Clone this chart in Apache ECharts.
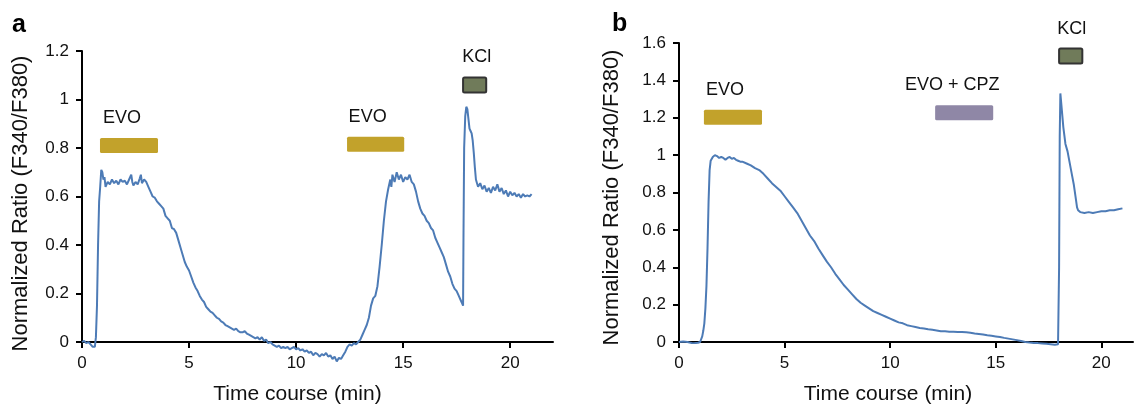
<!DOCTYPE html>
<html>
<head>
    <meta charset="UTF-8">
    <title>EVO calcium imaging</title>
    <script src="https://cdn.jsdelivr.net/npm/echarts@6.0.0/dist/echarts.min.js"></script>
    <style>
        html, body { margin: 0; padding: 0; background: #fff; }
        #chart { width: 1135px; height: 410px; }
    </style>
</head>
<body>
    <div id="chart"></div>
    <script>
        // panel a - trace (min, ratio)
        var timeA = [0, 0.1, 0.2, 0.3, 0.4, 0.5, 0.55, 0.6, 0.65, 0.7, 0.75, 0.8, 0.85, 0.9, 0.95, 1.0, 1.05, 1.1, 1.2, 1.3,
            1.4, 1.5, 1.6, 1.7, 1.8, 1.9, 2.0, 2.1, 2.2, 2.3, 2.35, 2.4, 2.5, 2.6, 2.7, 2.75, 2.8, 2.9, 3.0, 3.1,
            3.2, 3.3, 3.4, 3.5, 3.6, 3.7, 3.8, 3.9, 4.0, 4.1, 4.2, 4.3, 4.4, 4.5, 4.6, 4.7, 4.8, 4.9, 5.0, 5.1,
            5.2, 5.3, 5.4, 5.5, 5.6, 5.7, 5.8, 5.9, 6.0, 6.1, 6.2, 6.3, 6.4, 6.5, 6.6, 6.7, 6.8, 6.9, 7.0, 7.1,
            7.2, 7.3, 7.4, 7.5, 7.6, 7.7, 7.8, 7.9, 8.0, 8.1, 8.2, 8.3, 8.4, 8.5, 8.6, 8.7, 8.8, 8.9, 9.0, 9.1,
            9.2, 9.3, 9.4, 9.5, 9.6, 9.7, 9.8, 9.9, 10.0, 10.1, 10.2, 10.3, 10.4, 10.5, 10.6, 10.7, 10.8, 10.9, 11.0, 11.1,
            11.2, 11.3, 11.4, 11.5, 11.6, 11.7, 11.8, 11.9, 12.0, 12.1, 12.2, 12.3, 12.4, 12.5, 12.6, 12.7, 12.8, 12.9, 13.0, 13.1,
            13.2, 13.3, 13.4, 13.5, 13.6, 13.7, 13.8, 13.9, 14.0, 14.1, 14.2, 14.3, 14.4, 14.45, 14.5, 14.6, 14.7, 14.8, 14.9, 15.0,
            15.1, 15.2, 15.3, 15.4, 15.5, 15.6, 15.7, 15.8, 15.9, 16.0, 16.1, 16.2, 16.3, 16.4, 16.5, 16.6, 16.7, 16.8, 16.9, 17.0,
            17.1, 17.2, 17.3, 17.4, 17.5, 17.6, 17.7, 17.75, 17.8, 17.82, 17.85, 17.9, 17.95, 18.0, 18.05, 18.1, 18.15, 18.2, 18.25, 18.3,
            18.35, 18.4, 18.45, 18.5, 18.6, 18.7, 18.8, 18.9, 19.0, 19.1, 19.2, 19.3, 19.4, 19.5, 19.6, 19.7, 19.8, 19.9, 20.0, 20.1,
            20.2, 20.3, 20.4, 20.5, 20.6, 20.7, 20.8, 20.9, 21.0];
        var ratioA = [0, 0.005, -0.005, 0, -0.01, -0.02, -0.015, -0.02, 0.02, 0.15, 0.4, 0.58, 0.64, 0.71, 0.7, 0.67, 0.68, 0.64, 0.66, 0.65,
            0.67, 0.655, 0.665, 0.65, 0.67, 0.66, 0.665, 0.65, 0.67, 0.69, 0.66, 0.645, 0.66, 0.65, 0.675, 0.69, 0.655, 0.67, 0.66, 0.64,
            0.62, 0.6, 0.595, 0.58, 0.57, 0.56, 0.55, 0.52, 0.51, 0.5, 0.47, 0.465, 0.45, 0.42, 0.39, 0.36, 0.33, 0.31, 0.295, 0.27,
            0.245, 0.225, 0.21, 0.19, 0.175, 0.165, 0.145, 0.135, 0.125, 0.12, 0.11, 0.1, 0.095, 0.085, 0.08, 0.07, 0.065, 0.06, 0.055, 0.05,
            0.055, 0.045, 0.04, 0.04, 0.045, 0.035, 0.03, 0.025, 0.02, 0.015, 0.02, 0.01, 0.02, 0.005, 0.01, -0.005, 0, -0.01, -0.015, -0.02,
            -0.015, -0.025, -0.02, -0.025, -0.02, -0.03, -0.025, -0.02, -0.03, -0.025, -0.035, -0.03, -0.04, -0.035, -0.045, -0.04, -0.055, -0.045, -0.05, -0.06,
            -0.05, -0.055, -0.045, -0.06, -0.055, -0.07, -0.06, -0.08, -0.065, -0.07, -0.055, -0.04, -0.02, -0.01, -0.015, -0.005, -0.01, 0, 0.01, 0.03,
            0.05, 0.07, 0.1, 0.15, 0.18, 0.19, 0.23, 0.31, 0.4, 0.5, 0.58, 0.63, 0.67, 0.64, 0.69, 0.66, 0.7, 0.67, 0.69, 0.66,
            0.68, 0.67, 0.69, 0.66, 0.65, 0.62, 0.58, 0.55, 0.53, 0.52, 0.5, 0.49, 0.47, 0.46, 0.43, 0.41, 0.39, 0.37, 0.35, 0.32,
            0.29, 0.27, 0.24, 0.22, 0.21, 0.19, 0.17, 0.16, 0.15, 0.45, 0.8, 0.93, 0.97, 0.96, 0.92, 0.88, 0.87, 0.86, 0.83, 0.78,
            0.72, 0.67, 0.655, 0.64, 0.655, 0.63, 0.645, 0.62, 0.635, 0.615, 0.64, 0.625, 0.65, 0.62, 0.635, 0.61, 0.625, 0.6, 0.62, 0.605,
            0.615, 0.6, 0.61, 0.595, 0.61, 0.6, 0.605, 0.6, 0.61];

        // panel b
        var timeB = [0, 0.2, 0.4, 0.5, 0.6, 0.7, 0.8, 0.9, 1.0, 1.05, 1.1, 1.15, 1.2, 1.25, 1.3, 1.35, 1.4, 1.45, 1.5, 1.6,
            1.7, 1.8, 1.9, 2.0, 2.1, 2.2, 2.3, 2.4, 2.5, 2.6, 2.7, 2.8, 2.9, 3.0, 3.2, 3.4, 3.6, 3.8, 4.0, 4.2,
            4.4, 4.6, 4.8, 5.0, 5.2, 5.4, 5.6, 5.8, 6.0, 6.2, 6.4, 6.6, 6.8, 7.0, 7.2, 7.4, 7.6, 7.8, 8.0, 8.2,
            8.4, 8.6, 8.8, 9.0, 9.2, 9.4, 9.6, 9.8, 10.0, 10.2, 10.4, 10.6, 10.8, 11.0, 11.2, 11.4, 11.6, 11.8, 12.0, 12.2,
            12.4, 12.6, 12.8, 13.0, 13.2, 13.4, 13.6, 13.8, 14.0, 14.2, 14.4, 14.6, 14.8, 15.0, 15.2, 15.4, 15.6, 15.8, 16.0, 16.2,
            16.4, 16.6, 16.8, 17.0, 17.2, 17.4, 17.6, 17.8, 17.95, 18.0, 18.03, 18.06, 18.1, 18.2, 18.3, 18.4, 18.5, 18.6, 18.7, 18.8,
            18.85, 18.9, 19.0, 19.2, 19.4, 19.6, 19.8, 20.0, 20.2, 20.4, 20.6, 20.8, 21.0];
        var ratioB = [0, 0.003, 0, -0.003, -0.005, -0.006, -0.005, -0.004, 0, 0.01, 0.03, 0.06, 0.1, 0.18, 0.3, 0.5, 0.75, 0.92, 0.97, 0.99,
            1.0, 0.995, 0.985, 0.99, 0.985, 0.975, 0.985, 0.99, 0.98, 0.985, 0.975, 0.97, 0.965, 0.965, 0.955, 0.945, 0.93, 0.92, 0.9, 0.875,
            0.85, 0.83, 0.81, 0.78, 0.75, 0.72, 0.69, 0.65, 0.61, 0.57, 0.54, 0.5, 0.465, 0.43, 0.4, 0.365, 0.335, 0.305, 0.28, 0.255,
            0.23, 0.21, 0.195, 0.18, 0.165, 0.155, 0.145, 0.135, 0.125, 0.115, 0.105, 0.1, 0.09, 0.085, 0.08, 0.075, 0.072, 0.068, 0.065, 0.062,
            0.058, 0.057, 0.055, 0.055, 0.054, 0.053, 0.052, 0.05, 0.046, 0.043, 0.04, 0.036, 0.033, 0.03, 0.027, 0.022, 0.018, 0.014, 0.01, 0.005,
            0, -0.003, -0.005, -0.006, -0.008, -0.01, -0.012, -0.015, -0.012, 0.4, 1.1, 1.33, 1.28, 1.15, 1.06, 1.02, 0.96, 0.9, 0.84, 0.76,
            0.72, 0.705, 0.695, 0.69, 0.695, 0.69, 0.695, 0.7, 0.7, 0.705, 0.705, 0.71, 0.715];

        // treatment bars: [start min, end min, level]
        var treatA = [[0.84, 3.55, 0.81], [12.38, 15.05, 0.815], [17.8, 18.88, 1.06]];
        var treatLabelsA = ['EVO', 'EVO', 'KCl'];
        var treatB = [[1.18, 3.93, 1.203], [12.13, 14.88, 1.227], [18.0, 19.1, 1.53]];
        var treatLabelsB = ['EVO', 'EVO + CPZ', 'KCl'];

        var xTicks = [0, 5, 10, 15, 20];
        var panelLetters = ['a', 'b'];

        var font = '"Liberation Sans", Arial, Helvetica, sans-serif';
        var lineColor = '#4d7bb6';
        var barColors = { 'EVO': '#c2a22b', 'EVO + CPZ': '#8f87a6', 'KCl': '#707b5a' };
        // horizontal nudge of each label against its bar centre, px
        var labelShiftA = [-7, -8, 2];
        var labelShiftB = [-8, -12, 1];

        function zip(t, v) {
            var out = [];
            for (var i = 0; i < t.length; i++) out.push([t[i], v[i]]);
            return out;
        }

        function treatRenderer(labels, shifts) {
            return function (params, api) {
                var s = api.coord([api.value(0), api.value(2)]);
                var e = api.coord([api.value(1), api.value(2)]);
                var label = labels[params.dataIndex];
                var isKcl = label === 'KCl';
                var top = s[1] - 7.5;
                return {
                    type: 'group',
                    children: [
                        {
                            type: 'rect',
                            shape: { x: s[0], y: top, width: e[0] - s[0], height: 15, r: 1.5 },
                            style: {
                                fill: barColors[label],
                                stroke: isKcl ? '#333' : null,
                                lineWidth: isKcl ? 2 : 0
                            }
                        },
                        {
                            type: 'text',
                            style: {
                                text: label,
                                x: (s[0] + e[0]) / 2 + shifts[params.dataIndex],
                                y: top - 20,
                                align: 'center',
                                verticalAlign: 'middle',
                                fontSize: 18,
                                fontFamily: font,
                                fill: '#111'
                            }
                        }
                    ]
                };
            };
        }

        function xAxisFor(idx, max, shift) {
            return {
                type: 'value', gridIndex: idx, min: 0, max: max,
                name: 'Time course (min)', nameLocation: 'middle', nameGap: 42,
                nameTextStyle: { fontSize: 21, fontFamily: font, color: '#111', padding: [0, shift, 0, 0] },
                axisLine: { lineStyle: { color: '#000', width: 2 } },
                axisTick: { length: 6, lineStyle: { color: '#000', width: 2 }, customValues: xTicks },
                axisLabel: { fontSize: 17, fontFamily: font, color: '#111', margin: 13, customValues: xTicks },
                splitLine: { show: false }
            };
        }

        function yAxisFor(idx, max, gap, shift) {
            return {
                type: 'value', gridIndex: idx, min: 0, max: max, interval: 0.2,
                name: 'Normalized Ratio (F340/F380)', nameLocation: 'middle', nameGap: gap,
                nameTextStyle: { fontSize: 22, fontFamily: font, color: '#111', padding: [0, shift, 0, 0] },
                axisLine: { show: true, lineStyle: { color: '#000', width: 2 } },
                axisTick: { show: true, length: 6, lineStyle: { color: '#000', width: 2 } },
                axisLabel: { fontSize: 17, fontFamily: font, color: '#111', margin: 13 },
                splitLine: { show: false }
            };
        }

        var chart = echarts.init(document.getElementById('chart'), null, { renderer: 'canvas' });

        var option = {
            animation: false,
            backgroundColor: '#fff',
            graphic: [
                { type: 'text', left: 12, top: 13, style: { text: panelLetters[0], font: 'bold 25px ' + font, fill: '#000' } },
                { type: 'text', left: 612, top: 12, style: { text: panelLetters[1], font: 'bold 25px ' + font, fill: '#000' } }
            ],
            grid: [
                { left: 82, top: 51, width: 471, height: 296 },
                { left: 679, top: 43, width: 454, height: 300 }
            ],
            xAxis: [xAxisFor(0, 22, 40), xAxisFor(1, 21.5, 36)],
            yAxis: [yAxisFor(0, 1.2, 50, 14), yAxisFor(1, 1.6, 56, 10)],
            series: [
                {
                    type: 'line', xAxisIndex: 0, yAxisIndex: 0, data: zip(timeA, ratioA),
                    showSymbol: false, clip: false,
                    lineStyle: { color: lineColor, width: 2 }
                },
                {
                    type: 'line', xAxisIndex: 1, yAxisIndex: 1, data: zip(timeB, ratioB),
                    showSymbol: false, clip: false,
                    lineStyle: { color: lineColor, width: 2 }
                },
                {
                    type: 'custom', xAxisIndex: 0, yAxisIndex: 0, data: treatA,
                    encode: { x: [0, 1], y: 2 }, renderItem: treatRenderer(treatLabelsA, labelShiftA)
                },
                {
                    type: 'custom', xAxisIndex: 1, yAxisIndex: 1, data: treatB,
                    encode: { x: [0, 1], y: 2 }, renderItem: treatRenderer(treatLabelsB, labelShiftB)
                }
            ]
        };

        chart.setOption(option);
    </script>
</body>
</html>
